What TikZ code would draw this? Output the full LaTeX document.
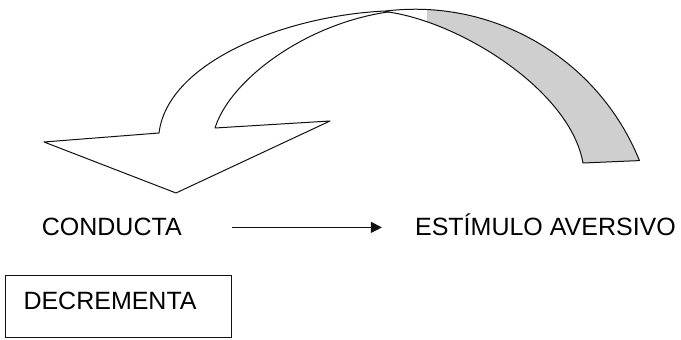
\documentclass[tikz,border=0pt]{standalone}
\usepackage{fontspec}
\setmainfont{Liberation Sans}
\usetikzlibrary{arrows.meta, positioning}
\definecolor{ribbongray}{HTML}{CFCFCF}
\definecolor{inkblack}{HTML}{111111}
\tikzset{
    labeltext/.style={
        inner sep=0pt,
        font=\fontsize{25pt}{30pt}\selectfont
    },
    outcomebox/.style={
        labeltext,
        draw=inkblack,
        line width=1pt,
        inner xsep=18pt,
        inner ysep=0pt,
        text width=190pt,
        text height=34pt,
        text depth=28pt
    },
    flow/.style={-{Triangle[length=11pt, width=11pt]}, line width=1pt, draw=inkblack},
    outline/.style={draw=inkblack, line width=1pt, line join=round}
}

\begin{document}
\begin{tikzpicture}[x=1pt, y=1pt]
    \useasboundingbox (0,0) rectangle (681,340);

    % back of the ribbon
    \begin{scope}
        \clip (427,0) rectangle (681,340);
        \fill[ribbongray] (386,329) arc[start angle=96.9, end angle=22, radius=242pt] -- (583,177)
            .. controls (570,250) and (460,318) .. (388,328) -- cycle;
    \end{scope}
    \draw[outline] (386,329) arc[start angle=96.9, end angle=22, radius=242pt] -- (583,177)
        .. controls (570,250) and (460,318) .. (388,328) -- cycle;

    % front of the arrow
    \draw[outline, fill=white] (44,198) -- (159,207) .. controls (168,280) and (290,325) .. (386,329)
        -- (388,328) .. controls (305,316) and (230,260) .. (215,212) -- (330,219) -- (176,147) -- cycle;

    \node[labeltext, anchor=base west] (conducta) at (41.7,104) {CONDUCTA};
    \node[labeltext, base right=233pt of conducta] (estimulo) {ESTÍMULO AVERSIVO};
    \draw[flow, shorten <=50pt, shorten >=33pt] (conducta.east) -- (conducta.east -| estimulo.west);

    \node[outcomebox, anchor=base west] (decrementa) at (5,30) {DECREMENTA};
\end{tikzpicture}
\end{document}
